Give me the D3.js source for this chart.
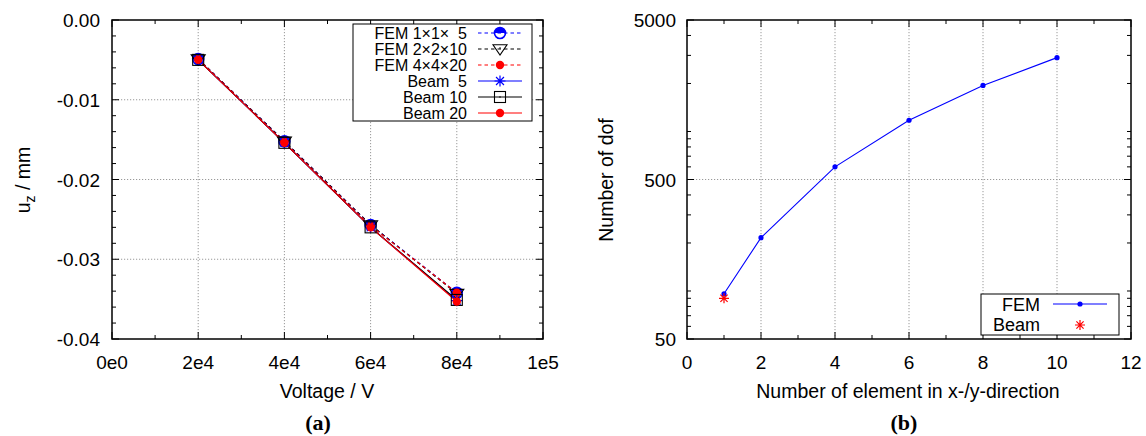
<!DOCTYPE html>
<html><head><meta charset="utf-8">
<script src="https://cdn.jsdelivr.net/npm/d3@7"></script>
<style>
body{margin:0;background:#fff;}
svg text{font-family:"Liberation Sans",Arial,sans-serif;fill:#000;}
</style></head>
<body>
<svg id="c" width="1146" height="436"></svg>
<script>
// ---------- data (a) ----------
const voltage = [2e4, 4e4, 6e4, 8e4];
const seriesNames = ["FEM 1×1×  5", "FEM 2×2×10", "FEM 4×4×20", "Beam  5", "Beam 10", "Beam 20"];
const fem1 = [-0.0049, -0.0152, -0.0257, -0.0342];
const fem2 = [-0.0049, -0.0152, -0.0257, -0.0343];
const fem3 = [-0.0049, -0.0153, -0.0258, -0.0342];
const beam5 = [-0.0050, -0.0154, -0.0260, -0.0352];
const beam10 = [-0.0050, -0.0154, -0.0260, -0.0351];
const beam20 = [-0.0050, -0.0154, -0.0260, -0.0353];
const xTicksA = [0, 2e4, 4e4, 6e4, 8e4, 1e5];
const xTickLabelsA = ["0e0", "2e4", "4e4", "6e4", "8e4", "1e5"];
const yTicksA = [0, -0.01, -0.02, -0.03, -0.04];
const yTickLabelsA = ["0.00", "-0.01", "-0.02", "-0.03", "-0.04"];
// ---------- data (b) ----------
const elements = [1, 2, 4, 6, 8, 10];
const femDof = [96, 216, 600, 1176, 1944, 2904];
const beamElements = [1];
const beamDof = [90];
const xTicksB = [0, 2, 4, 6, 8, 10, 12];
const yTicksB = [50, 500, 5000];

const svg = d3.select("#c");
const TICK_FS = "19px", TITLE_FS = "19.5px";

// ---------- marker helpers ----------
function star(g, x, y, s, color) {
  const p = `M${x - s},${y} L${x + s},${y} M${x},${y - s} L${x},${y + s} M${x - s * 0.72},${y - s * 0.72} L${x + s * 0.72},${y + s * 0.72} M${x - s * 0.72},${y + s * 0.72} L${x + s * 0.72},${y - s * 0.72}`;
  g.append("path").attr("d", p).attr("stroke", color).attr("stroke-width", 1.2).attr("fill", "none");
}
function marker(g, type, x, y) {
  if (type === "halfcircle") {
    const r = 5.5;
    g.append("path").attr("d", `M${x - r},${y} A${r},${r} 0 0 1 ${x + r},${y} Z`).attr("fill", "#0000ff");
    g.append("circle").attr("cx", x).attr("cy", y).attr("r", r).attr("fill", "none").attr("stroke", "#0000ff").attr("stroke-width", 1.6);
  } else if (type === "triangle") {
    const s = 7;
    g.append("path").attr("d", `M${x - s},${y - s * 0.6} L${x + s},${y - s * 0.6} L${x},${y + s * 0.85} Z`)
      .attr("fill", "none").attr("stroke", "#000").attr("stroke-width", 1.1);
    g.append("circle").attr("cx", x).attr("cy", y - 1).attr("r", 0.8).attr("fill", "#000");
  } else if (type === "dot") {
    g.append("circle").attr("cx", x).attr("cy", y).attr("r", 4.2).attr("fill", "#ff0000");
  } else if (type === "asterisk") {
    star(g, x, y, 5.5, "#0000ff");
  } else if (type === "square") {
    const s = 5.5;
    g.append("rect").attr("x", x - s).attr("y", y - s).attr("width", 2 * s).attr("height", 2 * s)
      .attr("fill", "none").attr("stroke", "#000").attr("stroke-width", 1.1);
    g.append("circle").attr("cx", x).attr("cy", y).attr("r", 0.8).attr("fill", "#000");
  } else if (type === "smalldot") {
    g.append("circle").attr("cx", x).attr("cy", y).attr("r", 2.6).attr("fill", "#0000ff");
  } else if (type === "redstar") {
    star(g, x, y, 5, "#ff0000");
  }
}

function frameTicks(g, x, y, xMajor, xMinor, yMajor, yMinor, L) {
  const grid = g.append("g").attr("stroke", "#999").attr("stroke-width", 1).attr("stroke-dasharray", "1.2,1.8");
  xMajor.filter(v => v > x.domain()[0] && v < x.domain()[1]).forEach(v => {
    grid.append("line").attr("x1", x(v)).attr("x2", x(v)).attr("y1", L.top).attr("y2", L.bottom);
  });
  L.yGrid.forEach(v => {
    grid.append("line").attr("y1", y(v)).attr("y2", y(v)).attr("x1", L.left).attr("x2", L.right);
  });
  const t = g.append("g").attr("stroke", "#000").attr("stroke-width", 1);
  xMajor.forEach(v => {
    t.append("line").attr("x1", x(v)).attr("x2", x(v)).attr("y1", L.bottom).attr("y2", L.bottom - 7);
    t.append("line").attr("x1", x(v)).attr("x2", x(v)).attr("y1", L.top).attr("y2", L.top + 7);
  });
  xMinor.forEach(v => {
    t.append("line").attr("x1", x(v)).attr("x2", x(v)).attr("y1", L.bottom).attr("y2", L.bottom - 4);
    t.append("line").attr("x1", x(v)).attr("x2", x(v)).attr("y1", L.top).attr("y2", L.top + 4);
  });
  yMajor.forEach(v => {
    t.append("line").attr("y1", y(v)).attr("y2", y(v)).attr("x1", L.left).attr("x2", L.left + 7);
    t.append("line").attr("y1", y(v)).attr("y2", y(v)).attr("x1", L.right).attr("x2", L.right - 7);
  });
  yMinor.forEach(v => {
    t.append("line").attr("y1", y(v)).attr("y2", y(v)).attr("x1", L.left).attr("x2", L.left + 4);
    t.append("line").attr("y1", y(v)).attr("y2", y(v)).attr("x1", L.right).attr("x2", L.right - 4);
  });
}

// ================= Panel (a) =================
const LA = {left: 112, right: 543, top: 20, bottom: 339};
const xA = d3.scaleLinear().domain([0, 1e5]).range([LA.left, LA.right]);
const yA = d3.scaleLinear().domain([-0.04, 0]).range([LA.bottom, LA.top]);
LA.yGrid = [-0.01, -0.02, -0.03];
const gA = svg.append("g");
const xMinorA = d3.range(1e4, 1e5, 2e4);
const yMinorA = d3.range(0, 20).map(i => -0.002 * i).filter(v => Math.abs(Math.round(v * 1000)) % 10 !== 0);
frameTicks(gA, xA, yA, xTicksA, xMinorA, yTicksA, yMinorA, LA);

const seriesA = [
  {vals: fem1, color: "#0000ff", dash: "3.5,3", m: "halfcircle"},
  {vals: fem2, color: "#000000", dash: "3.5,3", m: "triangle"},
  {vals: fem3, color: "#ff0000", dash: "3.5,3", m: "dot"},
  {vals: beam5, color: "#0000ff", dash: null, m: "asterisk"},
  {vals: beam10, color: "#000000", dash: null, m: "square"},
  {vals: beam20, color: "#ff0000", dash: null, m: "dot"}
];
const lineA = d3.line().x((d, i) => xA(voltage[i])).y(d => yA(d));
seriesA.forEach(s => {
  gA.append("path").attr("d", lineA(s.vals)).attr("fill", "none").attr("stroke", s.color)
    .attr("stroke-width", 1.2).attr("stroke-dasharray", s.dash);
});
seriesA.forEach(s => {
  s.vals.forEach((v, i) => marker(gA, s.m, xA(voltage[i]), yA(v)));
});

gA.append("rect").attr("x", LA.left).attr("y", LA.top).attr("width", LA.right - LA.left).attr("height", LA.bottom - LA.top)
  .attr("fill", "none").attr("stroke", "#000").attr("stroke-width", 1.5);

// legend (a)
const legA = gA.append("g");
legA.append("rect").attr("x", 353).attr("y", 24).attr("width", 179).attr("height", 97)
  .attr("fill", "#fff").attr("stroke", "#000").attr("stroke-width", 1);
seriesA.forEach((s, i) => {
  const yy = 33 + i * 16;
  legA.append("text").attr("x", 467).attr("y", yy + 6).attr("text-anchor", "end")
    .style("font-size", "16px").style("white-space", "pre").text(seriesNames[i]);
  legA.append("line").attr("x1", 478).attr("x2", 522).attr("y1", yy).attr("y2", yy)
    .attr("stroke", s.color).attr("stroke-width", 1.1).attr("stroke-dasharray", s.dash);
  marker(legA, s.m, 500, yy);
});

// tick labels (a)
xTicksA.forEach((v, i) => {
  gA.append("text").attr("x", xA(v)).attr("y", 369).attr("text-anchor", "middle").style("font-size", TICK_FS).text(xTickLabelsA[i]);
});
yTicksA.forEach((v, i) => {
  gA.append("text").attr("x", 100).attr("y", yA(v) + 7).attr("text-anchor", "end").style("font-size", TICK_FS).text(yTickLabelsA[i]);
});
gA.append("text").attr("x", 327).attr("y", 398).attr("text-anchor", "middle").style("font-size", TITLE_FS).text("Voltage / V");
const ytA = gA.append("text").attr("transform", "translate(30,180) rotate(-90)").attr("text-anchor", "middle").style("font-size", TITLE_FS);
ytA.append("tspan").text("u");
ytA.append("tspan").attr("dy", 5).style("font-size", "14px").text("z");
ytA.append("tspan").attr("dy", -5).text(" / mm");
gA.append("text").attr("x", 318).attr("y", 430).attr("text-anchor", "middle")
  .style("font-family", "'Liberation Serif','Times New Roman',serif").style("font-weight", "bold").style("font-size", "22px").text("(a)");

// ================= Panel (b) =================
const LB = {left: 687, right: 1131, top: 20, bottom: 339};
const xB = d3.scaleLinear().domain([0, 12]).range([LB.left, LB.right]);
const yB = d3.scaleLog().domain([50, 5000]).range([LB.bottom, LB.top]);
LB.yGrid = [500];
const gB = svg.append("g");
const xMinorB = d3.range(1, 12, 2);
const yMinorB = [];
[10, 100, 1000].forEach(p => { for (let k = 1; k <= 9; k++) { const v = k * p; if (v > 50 && v < 5000 && v !== 500) yMinorB.push(v); } });
frameTicks(gB, xB, yB, xTicksB, xMinorB, yTicksB, yMinorB, LB);

const lineB = d3.line().x((d, i) => xB(elements[i])).y(d => yB(d));
gB.append("path").attr("d", lineB(femDof)).attr("fill", "none").attr("stroke", "#0000ff").attr("stroke-width", 1.1);
femDof.forEach((v, i) => marker(gB, "smalldot", xB(elements[i]), yB(v)));
beamDof.forEach((v, i) => marker(gB, "redstar", xB(beamElements[i]), yB(v)));

gB.append("rect").attr("x", LB.left).attr("y", LB.top).attr("width", LB.right - LB.left).attr("height", LB.bottom - LB.top)
  .attr("fill", "none").attr("stroke", "#000").attr("stroke-width", 1.5);

// legend (b)
const legB = gB.append("g");
legB.append("rect").attr("x", 981).attr("y", 294).attr("width", 138).attr("height", 41)
  .attr("fill", "#fff").attr("stroke", "#000").attr("stroke-width", 1);
legB.append("text").attr("x", 1040).attr("y", 311).attr("text-anchor", "end").style("font-size", "18px").text("FEM");
legB.append("line").attr("x1", 1053).attr("x2", 1107).attr("y1", 304).attr("y2", 304).attr("stroke", "#0000ff").attr("stroke-width", 1.1);
marker(legB, "smalldot", 1080, 304);
legB.append("text").attr("x", 1040).attr("y", 331).attr("text-anchor", "end").style("font-size", "18px").text("Beam");
marker(legB, "redstar", 1080, 325);

xTicksB.forEach(v => {
  gB.append("text").attr("x", xB(v)).attr("y", 369).attr("text-anchor", "middle").style("font-size", TICK_FS).text(String(v));
});
yTicksB.forEach(v => {
  gB.append("text").attr("x", 676).attr("y", yB(v) + 7).attr("text-anchor", "end").style("font-size", TICK_FS).text(String(v));
});
gB.append("text").attr("x", 908).attr("y", 398).attr("text-anchor", "middle").style("font-size", TITLE_FS).text("Number of element in x-/y-direction");
gB.append("text").attr("transform", "translate(613,180) rotate(-90)").attr("text-anchor", "middle").style("font-size", TITLE_FS).text("Number of dof");
gB.append("text").attr("x", 904).attr("y", 430).attr("text-anchor", "middle")
  .style("font-family", "'Liberation Serif','Times New Roman',serif").style("font-weight", "bold").style("font-size", "22px").text("(b)");
</script>
</body></html>
